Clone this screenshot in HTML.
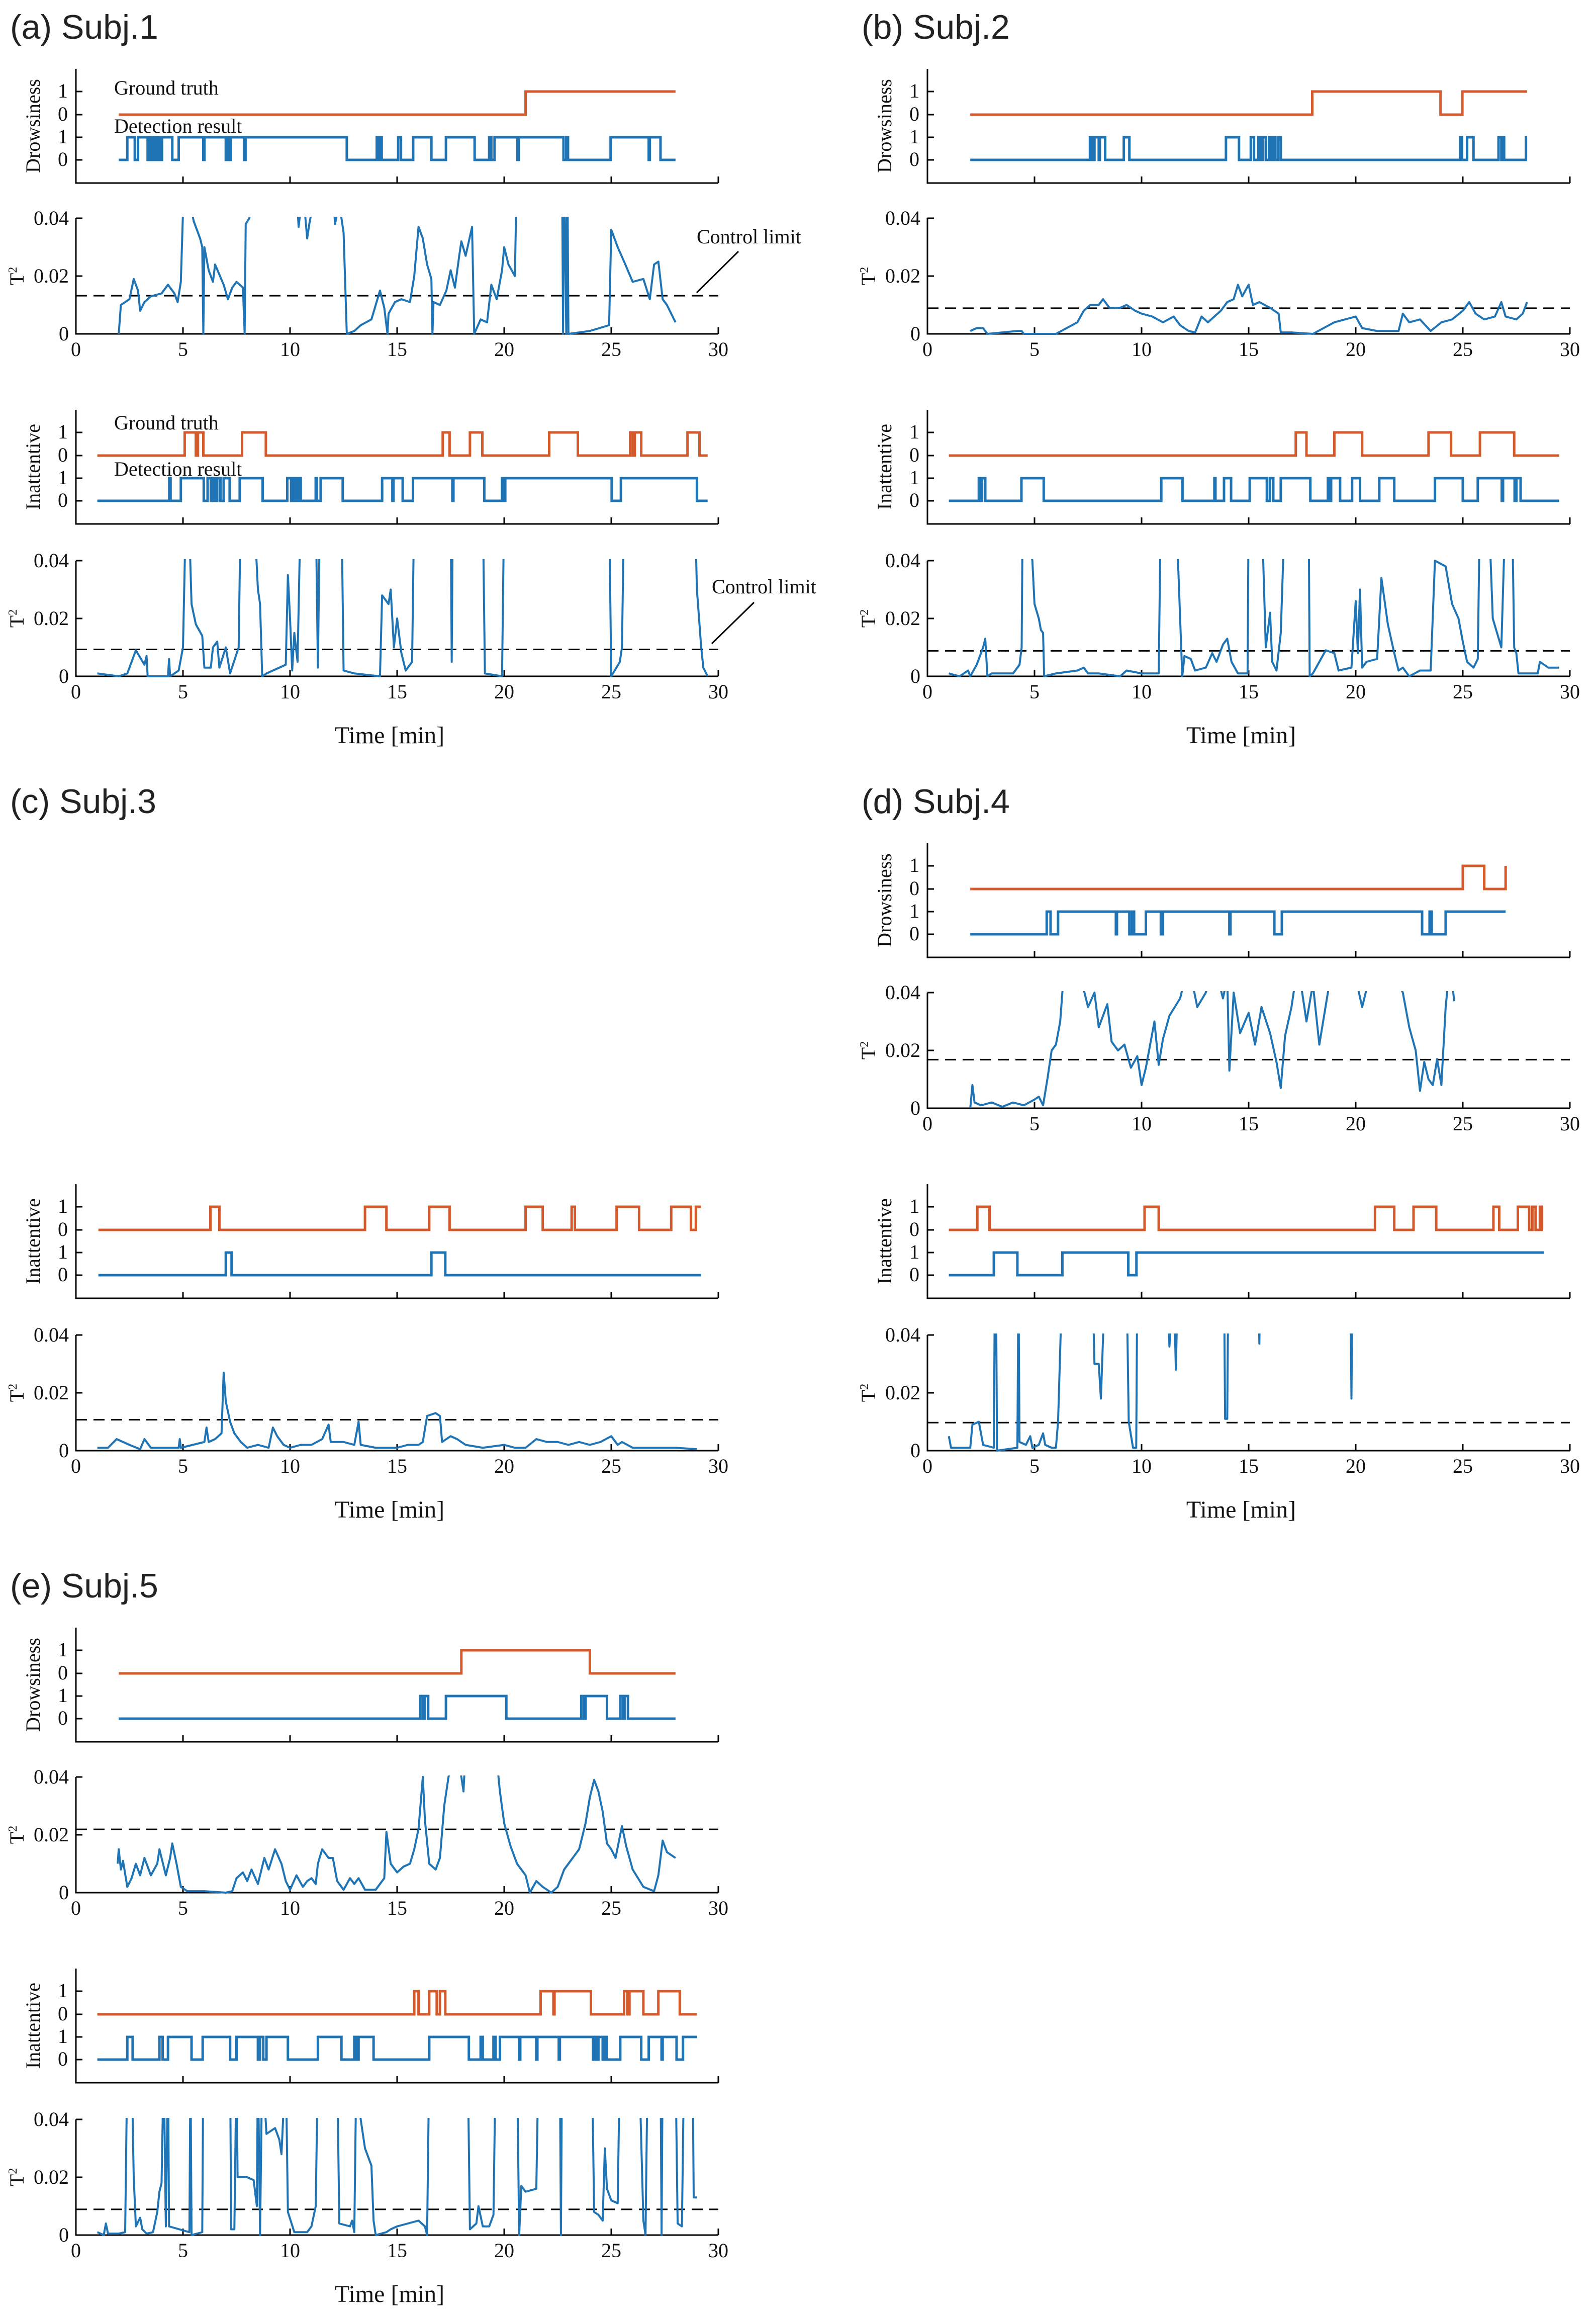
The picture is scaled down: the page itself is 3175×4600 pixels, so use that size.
<!DOCTYPE html>
<html><head><meta charset="utf-8">
<style>
html,body{margin:0;padding:0;background:#fff;}
svg{display:block;}
text{font-family:"Liberation Serif",serif;fill:#111;}
.ttl{font-family:"Liberation Sans",sans-serif;font-size:68px;fill:#222;}
.tk{font-size:40px;}
.lab{font-size:40px;}
.time{font-size:48px;}
</style></head>
<body>
<svg id="fig" xmlns="http://www.w3.org/2000/svg" width="3175" height="4600" viewBox="0 0 3175 4600"></svg>
<script>
// ---------- DATA ----------
// step series: [start, end, initialValue, toggle times]
const a_dGT = [2, 28, 0, [21]];
const a_dDet = [2, 28, 0, [2.4,2.75,2.9,3.35,3.42,3.5,3.58,3.65,3.72,3.8,3.88,3.95,4.02,4.5,4.8,5.95,6.0,7.0,7.05,7.15,7.22,7.85,7.92,12.65,14.05,14.12,14.2,14.28,15.05,15.18,15.75,16.6,17.28,18.62,19.3,19.4,19.55,20.62,20.68,22.77,22.9,22.98,24.97,26.75,26.8,27.3]];
const a_iGT = [1, 29.5, 0, [5.08,5.6,5.7,5.95,7.76,8.87,17.13,17.45,18.4,18.98,22.1,23.44,25.88,26.0,26.1,26.4,28.56,29.12]];
const a_iDet = [1, 29.5, 0, [4.36,4.42,4.9,5.97,6.15,6.3,6.4,6.5,6.6,6.75,6.9,7.18,7.65,8.72,9.87,10.05,10.1,10.2,10.25,10.35,10.4,10.5,11.2,11.25,11.43,12.46,14.3,14.78,14.83,15.26,15.74,17.58,17.63,19.07,19.9,19.98,20.05,25.02,25.45,29.0]];
const a_dT2 = [[2,0],[2.1,0.01],[2.5,0.012],[2.7,0.019],[2.9,0.015],[3.0,0.008],[3.2,0.011],[3.5,0.013],[4.0,0.014],[4.3,0.017],[4.6,0.014],[4.75,0.011],[4.9,0.018],[5.0,0.042],[5.2,0.05],[5.5,0.039],[5.8,0.033],[5.9,0.03],[5.95,0],[6.0,0.03],[6.2,0.022],[6.4,0.018],[6.5,0.024],[6.9,0.017],[7.1,0.012],[7.3,0.016],[7.5,0.018],[7.8,0.016],[7.88,0],[7.93,0.038],[8.1,0.04],[8.3,0.05],[10.3,0.05],[10.4,0.037],[10.6,0.05],[10.8,0.033],[10.9,0.038],[11.2,0.05],[12.0,0.05],[12.1,0.038],[12.3,0.045],[12.5,0.035],[12.65,0],[13.0,0.001],[13.3,0.003],[13.8,0.005],[14.0,0.01],[14.2,0.015],[14.4,0.009],[14.55,0],[14.6,0.007],[14.9,0.011],[15.2,0.012],[15.6,0.011],[15.8,0.02],[16.0,0.037],[16.2,0.033],[16.4,0.024],[16.6,0.019],[16.65,0],[16.7,0.011],[17.0,0.01],[17.3,0.015],[17.5,0.022],[17.7,0.016],[17.9,0.027],[18.0,0.032],[18.2,0.027],[18.5,0.037],[18.6,0],[18.9,0.005],[19.2,0.004],[19.4,0.017],[19.65,0.012],[19.9,0.022],[20.0,0.03],[20.2,0.024],[20.5,0.02],[20.6,0.06],[22.7,0.06],[22.75,0],[22.8,0.06],[22.9,0],[22.95,0.06],[23.0,0],[24.0,0.001],[24.9,0.003],[25.0,0.036],[25.3,0.03],[25.6,0.025],[26.0,0.018],[26.5,0.019],[26.8,0.012],[27.0,0.024],[27.2,0.025],[27.4,0.012],[27.6,0.01],[27.8,0.007],[28.0,0.004]];
const a_iT2 = [[1,0.001],[2,0],[2.4,0.001],[2.8,0.009],[3.2,0.004],[3.3,0.007],[3.35,0],[4.3,0],[4.35,0.006],[4.4,0],[4.8,0.002],[5.0,0.01],[5.1,0.045],[5.3,0.05],[5.4,0.025],[5.6,0.018],[5.9,0.014],[6.0,0.003],[6.3,0.003],[6.4,0.01],[6.6,0.012],[6.7,0.003],[7.0,0.01],[7.2,0.001],[7.6,0.01],[7.7,0.06],[8.3,0.06],[8.5,0.03],[8.6,0.025],[8.7,0],[8.9,0.001],[9.5,0.003],[9.8,0.004],[9.9,0.035],[10.0,0.02],[10.1,0.002],[10.2,0.015],[10.35,0.005],[10.5,0.06],[11.2,0.06],[11.3,0.003],[11.4,0.06],[12.4,0.06],[12.5,0.002],[13,0.001],[14.2,0],[14.3,0.028],[14.6,0.025],[14.7,0.03],[14.85,0.01],[15.0,0.02],[15.2,0.008],[15.4,0.002],[15.7,0.005],[15.8,0.06],[17.5,0.06],[17.55,0.005],[17.6,0.06],[19.0,0.06],[19.1,0.001],[19.9,0],[20.0,0.06],[24.9,0.06],[25.0,0],[25.4,0.005],[25.5,0.01],[25.6,0.06],[28.9,0.06],[29.0,0.03],[29.2,0.01],[29.3,0.003],[29.5,0]];

const b_dGT = [2, 28, 0, [17.97,23.96,24.98]];
const b_dDet = [2, 28, 0, [7.59,7.69,7.8,8.0,8.05,8.3,9.17,9.43,13.94,14.55,15.1,15.25,15.45,15.55,15.65,15.8,15.95,16.05,16.15,16.25,16.38,16.5,24.88,24.96,25.2,25.5,26.67,26.8,26.85,26.93,27.95]];
const b_iGT = [1, 29.5, 0, [17.2,17.7,19.0,20.3,23.4,24.45,25.8,27.4]];
const b_iDet = [1, 29.5, 0, [2.4,2.5,2.55,2.7,4.39,5.43,10.92,11.91,13.4,13.45,13.85,14.18,15.05,15.85,15.99,16.15,16.5,17.88,18.7,18.75,18.85,19.27,19.83,20.2,21.1,21.8,23.7,25.0,25.7,26.82,26.88,27.42,27.5,27.7]];
const b_dT2 = [[2,0.001],[2.3,0.002],[2.6,0.002],[2.8,0],[4.2,0.001],[4.4,0.001],[4.5,0],[6,0],[6.5,0.002],[7,0.004],[7.3,0.008],[7.6,0.01],[8,0.01],[8.2,0.012],[8.5,0.009],[9,0.009],[9.3,0.01],[9.7,0.008],[10,0.007],[10.5,0.006],[11,0.004],[11.5,0.006],[11.8,0.003],[12.2,0.001],[12.5,0.0005],[12.8,0.006],[13.1,0.004],[13.4,0.006],[13.7,0.008],[14,0.011],[14.3,0.012],[14.5,0.017],[14.7,0.013],[15,0.017],[15.2,0.01],[15.5,0.011],[16,0.009],[16.4,0.007],[16.5,0.0005],[17,0.0005],[18,0],[18.5,0.002],[19,0.004],[19.5,0.005],[20,0.006],[20.3,0.002],[21,0.001],[21.5,0.001],[22,0.001],[22.2,0.007],[22.5,0.004],[23,0.005],[23.5,0.001],[24,0.004],[24.5,0.005],[25,0.008],[25.3,0.011],[25.6,0.007],[26,0.005],[26.5,0.006],[26.8,0.011],[27,0.006],[27.5,0.005],[27.8,0.007],[28,0.011]];
const b_iT2 = [[1,0.001],[1.5,0],[1.9,0.002],[2,0],[2.3,0.004],[2.6,0.01],[2.7,0.013],[2.8,0],[3,0.001],[4,0.001],[4.3,0.004],[4.4,0.01],[4.45,0.06],[4.9,0.04],[5,0.025],[5.2,0.02],[5.3,0.016],[5.4,0.015],[5.45,0],[6,0.001],[7,0.002],[7.3,0.003],[7.5,0.001],[8,0.001],[9,0],[9.3,0.002],[10,0.001],[10.8,0.001],[10.9,0.06],[11.6,0.06],[11.7,0.04],[11.9,0],[12,0.007],[12.3,0.006],[12.5,0.002],[13,0.003],[13.3,0.008],[13.5,0.005],[13.8,0.011],[14,0.013],[14.2,0.005],[14.5,0.001],[14.95,0.001],[15,0.06],[15.6,0.06],[15.8,0.01],[16,0.022],[16.1,0.005],[16.3,0.002],[16.5,0.015],[16.7,0.06],[17.8,0.06],[17.85,0],[18,0.001],[18.6,0.009],[19,0.008],[19.2,0.002],[19.8,0.003],[20,0.026],[20.1,0.008],[20.2,0.03],[20.3,0.003],[20.5,0.005],[21,0.006],[21.2,0.034],[21.5,0.018],[21.8,0.008],[22,0.002],[22.2,0.003],[22.5,0],[23,0.002],[23.5,0.002],[23.7,0.04],[24.2,0.038],[24.5,0.025],[24.8,0.02],[25,0.012],[25.2,0.005],[25.5,0.003],[25.7,0.006],[25.8,0.06],[26.2,0.06],[26.4,0.02],[26.8,0.01],[27,0.06],[27.3,0.06],[27.4,0.01],[27.5,0.008],[27.6,0.001],[28.5,0.001],[28.6,0.005],[29,0.003],[29.5,0.003]];

const c_iGT = [1.05, 29.2, 0, [6.28,6.7,13.5,14.5,16.5,17.45,21.0,21.8,23.15,23.3,25.25,26.3,27.8,28.72,28.95]];
const c_iDet = [1.05, 29.2, 0, [7.0,7.27,16.6,17.25]];
const c_iT2 = [[1,0.001],[1.5,0.001],[1.9,0.004],[2.5,0.002],[3,0.0005],[3.2,0.004],[3.5,0.001],[4,0.001],[4.8,0.001],[4.85,0.004],[4.9,0.001],[6,0.003],[6.1,0.008],[6.2,0.003],[6.5,0.004],[6.8,0.006],[6.9,0.027],[7,0.017],[7.2,0.01],[7.4,0.006],[7.7,0.003],[8,0.001],[8.5,0.002],[9,0.001],[9.2,0.008],[9.4,0.005],[9.7,0.002],[10,0.001],[10.5,0.002],[11,0.002],[11.5,0.004],[11.8,0.009],[11.9,0.003],[12.5,0.003],[13,0.002],[13.2,0.01],[13.3,0.002],[14,0.001],[15,0.001],[15.5,0.002],[16,0.002],[16.2,0.003],[16.4,0.012],[16.8,0.013],[17,0.012],[17.1,0.003],[17.5,0.005],[17.8,0.004],[18.2,0.002],[19,0.001],[20,0.002],[20.5,0.001],[21,0.001],[21.5,0.004],[22,0.003],[22.5,0.003],[23,0.002],[23.5,0.003],[24,0.002],[24.5,0.003],[25,0.005],[25.3,0.002],[25.5,0.003],[26,0.001],[26.5,0.001],[27,0.001],[28,0.001],[29,0.0005]];

const d_dGT = [2, 27, 0, [25.0,26.0,27.0]];
const d_dDet = [2, 27, 0, [5.57,5.75,6.1,8.8,8.85,9.43,9.55,9.65,10.2,10.9,11.0,14.1,14.15,16.2,16.55,23.1,23.45,23.55,24.2]];
const d_iGT = [1, 28.75, 0, [2.33,2.9,10.14,10.8,20.9,21.8,22.7,23.76,26.43,26.7,27.57,28.1,28.25,28.4,28.6,28.7]];
const d_iDet = [1, 28.8, 0, [3.1,4.2,6.3,9.38,9.76]];
const d_dT2 = [[2,0],[2.1,0.008],[2.2,0.002],[2.5,0.001],[3,0.002],[3.5,0.0005],[4,0.002],[4.5,0.001],[5,0.003],[5.2,0.004],[5.4,0.001],[5.6,0.01],[5.8,0.02],[6,0.022],[6.2,0.03],[6.4,0.05],[7,0.05],[7.5,0.035],[7.8,0.04],[8,0.028],[8.4,0.036],[8.6,0.023],[8.9,0.02],[9.2,0.022],[9.5,0.014],[9.8,0.018],[10,0.008],[10.2,0.014],[10.4,0.022],[10.6,0.03],[10.8,0.015],[11,0.024],[11.3,0.032],[11.8,0.038],[12.2,0.05],[12.6,0.035],[13,0.04],[13.4,0.05],[13.8,0.038],[14,0.045],[14.1,0.013],[14.3,0.04],[14.6,0.026],[15,0.033],[15.3,0.022],[15.6,0.035],[16,0.026],[16.3,0.016],[16.5,0.007],[16.7,0.025],[17,0.035],[17.3,0.05],[17.7,0.03],[18,0.043],[18.3,0.022],[18.7,0.04],[19,0.05],[20,0.045],[20.3,0.035],[20.8,0.05],[21.5,0.05],[22.2,0.04],[22.5,0.028],[22.8,0.02],[23,0.006],[23.2,0.016],[23.4,0.01],[23.6,0.008],[23.8,0.017],[24,0.008],[24.2,0.035],[24.4,0.05],[24.6,0.037]];
const d_iT2 = [[1,0.005],[1.1,0.001],[2,0.001],[2.1,0.009],[2.4,0.01],[2.6,0.002],[3.1,0.001],[3.15,0.06],[3.2,0.06],[3.25,0],[4.2,0.001],[4.25,0.06],[4.3,0.003],[4.6,0.002],[4.8,0.005],[4.9,0.001],[5.2,0.002],[5.4,0.006],[5.5,0.002],[5.8,0.001],[6,0.001],[6.1,0.01],[6.3,0.06],[7.7,0.06],[7.8,0.03],[8,0.03],[8.1,0.018],[8.3,0.06],[9.3,0.06],[9.4,0.01],[9.6,0.001],[9.75,0.001],[9.8,0.06],[11.2,0.06],[11.3,0.036],[11.5,0.06],[11.6,0.028],[11.7,0.06],[13.85,0.06],[13.9,0.011],[14,0.011],[14.05,0.06],[15.45,0.06],[15.5,0.037],[15.55,0.06],[19.75,0.06],[19.8,0.018],[19.85,0.06],[28.8,0.06]];

const e_dGT = [2, 28, 0, [18.0,24.0]];
const e_dDet = [2, 28, 0, [16.08,16.2,16.3,16.45,17.28,20.1,23.6,23.72,23.8,24.8,25.43,25.55,25.62,25.78]];
const e_iGT = [1, 29.0, 0, [15.8,16.0,16.5,16.85,17.0,17.25,21.7,22.3,22.35,24.05,25.6,25.75,25.85,26.5,27.2,28.2]];
const e_iDet = [1, 29.0, 0, [2.4,2.65,3.9,4.05,4.3,5.4,5.92,7.2,7.5,8.5,8.6,8.75,8.9,9.9,11.3,12.4,13.0,13.1,13.2,13.9,16.5,18.35,18.9,19.0,19.5,19.6,19.8,20.7,20.75,21.5,21.55,22.55,22.6,24.15,24.2,24.3,24.4,24.6,24.7,24.8,25.42,26.4,26.75,27.35,27.4,28.05,28.35]];
const e_dT2 = [[1.95,0.01],[2,0.015],[2.1,0.008],[2.2,0.011],[2.4,0.002],[2.6,0.005],[2.8,0.01],[3,0.006],[3.2,0.012],[3.5,0.006],[3.8,0.01],[3.9,0.015],[4.1,0.009],[4.2,0.006],[4.4,0.012],[4.5,0.017],[4.7,0.01],[4.9,0.002],[5.2,0.0005],[6,0.0005],[7,0],[7.3,0.0005],[7.5,0.005],[7.8,0.007],[8,0.004],[8.2,0.008],[8.5,0.003],[8.8,0.012],[9,0.008],[9.3,0.015],[9.6,0.01],[9.8,0.004],[10,0.001],[10.3,0.006],[10.6,0.002],[10.8,0.004],[11,0.005],[11.2,0.003],[11.3,0.01],[11.5,0.015],[11.8,0.012],[12,0.012],[12.2,0.004],[12.5,0.001],[12.8,0.005],[13,0.003],[13.2,0.005],[13.5,0.001],[14,0.001],[14.4,0.005],[14.5,0.021],[14.7,0.01],[15,0.007],[15.3,0.009],[15.6,0.01],[15.8,0.015],[16,0.022],[16.2,0.04],[16.3,0.025],[16.5,0.01],[16.8,0.008],[17,0.012],[17.2,0.03],[17.4,0.04],[17.8,0.05],[18,0.04],[18.1,0.035],[18.2,0.05],[19.6,0.05],[19.8,0.035],[20,0.024],[20.3,0.016],[20.6,0.01],[21,0.006],[21.2,0],[21.5,0.004],[21.8,0.002],[22.2,0],[22.5,0.002],[22.8,0.008],[23,0.01],[23.5,0.015],[23.8,0.024],[24,0.033],[24.2,0.039],[24.4,0.035],[24.6,0.028],[24.8,0.017],[25,0.015],[25.2,0.012],[25.5,0.023],[25.7,0.016],[26,0.008],[26.5,0.002],[27,0.0005],[27.2,0.006],[27.4,0.018],[27.6,0.014],[28,0.012]];
const e_iT2 = [[1,0.001],[1.3,0],[1.4,0.004],[1.5,0.0005],[2,0.0005],[2.3,0.001],[2.4,0.06],[2.6,0.06],[2.7,0.02],[2.8,0.003],[3,0.006],[3.1,0.002],[3.3,0.0005],[3.6,0.001],[3.8,0.008],[3.9,0.015],[4,0.018],[4.1,0.06],[4.2,0.003],[4.3,0.06],[4.35,0.003],[5.3,0.001],[5.35,0.06],[5.4,0],[5.9,0.001],[5.95,0.06],[7.2,0.06],[7.25,0.002],[7.4,0.002],[7.5,0.06],[7.55,0.02],[8,0.02],[8.3,0.019],[8.45,0.01],[8.5,0.06],[8.6,0],[8.7,0.06],[8.9,0.035],[9.3,0.037],[9.5,0.033],[9.6,0.028],[9.8,0.06],[9.9,0.008],[10.2,0.001],[10.8,0.001],[11,0.003],[11.2,0.01],[11.3,0.06],[12.2,0.06],[12.3,0.004],[12.8,0.003],[12.9,0.005],[13,0.001],[13.1,0.06],[13.3,0.04],[13.5,0.03],[13.8,0.024],[13.9,0.005],[14,0],[14.5,0.001],[14.7,0.002],[15,0.003],[15.5,0.004],[16,0.005],[16.3,0.003],[16.4,0],[16.5,0.06],[18.3,0.06],[18.4,0.002],[18.7,0.004],[18.8,0.01],[19,0.003],[19.3,0.003],[19.5,0.007],[19.6,0.06],[20.6,0.06],[20.7,0],[20.8,0.017],[21,0.015],[21.5,0.016],[21.6,0.06],[22.6,0.06],[22.65,0],[22.7,0.06],[24.1,0.06],[24.2,0.008],[24.4,0.007],[24.6,0.005],[24.7,0.03],[24.8,0.016],[25,0.012],[25.3,0.011],[25.4,0.06],[26.3,0.06],[26.5,0.005],[26.6,0],[26.7,0.06],[27.3,0.06],[27.35,0],[27.4,0.06],[28,0.06],[28.1,0.004],[28.3,0.003],[28.4,0.06],[28.8,0.06],[28.85,0.013],[29,0.013]];

const controlLimits = {a:[0.0132,0.0093], b:[0.0089,0.0088], c:[null,0.0107], d:[0.0168,0.0097], e:[0.0219,0.0089]};
const xTicks = [0,5,10,15,20,25,30];
const t2Ticks = [0,0.02,0.04];
const t2TickLabels = ['0','0.02','0.04'];

// ---------- DRAWING ----------
const NS='http://www.w3.org/2000/svg';
const svg=document.getElementById('fig');
const ORANGE='#d4592b', BLUE='#1f74b5';
const W=1278;
function mk(tag,attrs,parent){const e=document.createElementNS(NS,tag);for(const k in attrs)e.setAttribute(k,attrs[k]);(parent||svg).appendChild(e);return e;}
let clipN=0;

function stepPath(series,xs,yHi,yLo){
  const [s,e,init,tg]=series;let v=init;let d='M'+xs(s)+','+(v?yHi:yLo);
  for(const t of tg){d+='L'+xs(t)+','+(v?yHi:yLo);v=1-v;d+='L'+xs(t)+','+(v?yHi:yLo);}
  d+='L'+xs(e)+','+(v?yHi:yLo);return d;
}

function stepBlock(g,x0,top,label,gt,det){
  const xs=t=>x0+t*W/30;
  const gt1=top+45,gt0=top+91,d1=top+136,d0=top+181,bot=top+227;
  const ax=mk('path',{d:`M${x0},${top}V${bot}H${x0+W}`,stroke:'#000','stroke-width':3,fill:'none'},g);
  
  
  for(const t of xTicks){const tk=mk('line',{x1:xs(t),x2:xs(t),y1:bot,y2:bot-13,stroke:'#000','stroke-width':3},g);
    
    }
  [[gt1,'1'],[gt0,'0'],[d1,'1'],[d0,'0']].forEach(([y,s])=>{
    const tl=mk('line',{x1:x0,x2:x0+13,y1:y,y2:y,stroke:'#000','stroke-width':3},g);
    
    
    const tx=mk('text',{x:x0-16,y:y+12,'text-anchor':'end',class:'tk'},g);tx.textContent=s;
    
    });
  const lb=mk('text',{x:0,y:0,class:'lab','text-anchor':'middle',transform:`translate(${x0-72},${(top+bot)/2}) rotate(-90)`},g);lb.textContent=label;
  
  
  const p1=mk('path',{d:stepPath(gt,xs,gt1,gt0),stroke:ORANGE,'stroke-width':5,fill:'none'},g);
  
  
  const p2=mk('path',{d:stepPath(det,xs,d1,d0),stroke:BLUE,'stroke-width':5,fill:'none'},g);
  
  
}

function t2Block(g,x0,top,data,cl){
  const xs=t=>x0+t*W/30;const H=230;const zero=top+H;const ys=v=>zero-v/0.04*H;
  const id='clip'+(clipN++);const cp=mk('clipPath',{id:id},g);mk('rect',{x:x0,y:top-3,width:W+10,height:H+6},cp);
  const ax=mk('path',{d:`M${x0},${top}V${zero}H${x0+W}`,stroke:'#000','stroke-width':3,fill:'none'},g);
  
  
  for(const t of xTicks){const tk=mk('line',{x1:xs(t),x2:xs(t),y1:zero,y2:zero-13,stroke:'#000','stroke-width':3},g);
    
    
    const tx=mk('text',{x:xs(t),y:zero+44,'text-anchor':'middle',class:'tk'},g);tx.textContent=t;
    
    }
  t2Ticks.forEach((v,i)=>{const tl=mk('line',{x1:x0,x2:x0+13,y1:ys(v),y2:ys(v),stroke:'#000','stroke-width':3},g);
    
    
    const tx=mk('text',{x:x0-14,y:ys(v)+13,'text-anchor':'end',class:'tk'},g);tx.textContent=t2TickLabels[i];
    
    });
  const lb=mk('text',{x:0,y:0,class:'lab','text-anchor':'middle',transform:`translate(${x0-104},${top+H/2}) rotate(-90)`},g);
  lb.innerHTML='T<tspan dy="-14" font-size="24">2</tspan>';
  
  
  const dl=mk('line',{x1:x0,x2:x0+W,y1:ys(cl),y2:ys(cl),stroke:'#000','stroke-width':3,'stroke-dasharray':'22 13'},g);
  
  
  const d='M'+data.map(p=>xs(p[0])+','+ys(p[1])).join('L');
  const ln=mk('path',{d:d,stroke:BLUE,'stroke-width':4,fill:'none','clip-path':`url(#${id})`,'stroke-linejoin':'round'},g);
  
  
  return {ys,zero};
}

function panel(key,title,x0,oy,dGT,dDet,dT2,iGT,iDet,iT2){
  const g=mk('g',{});
  
  
  const tt=mk('text',{x:x0-131,y:oy+77,class:'ttl'},g);tt.textContent=title;
  
  
  const cl=controlLimits[key];
  if(dGT){stepBlock(g,x0,oy+137,'Drowsiness',dGT,dDet);t2Block(g,x0,oy+434,dT2,cl[0]);}
  stepBlock(g,x0,oy+815,'Inattentive',iGT,iDet);
  t2Block(g,x0,oy+1115,iT2,cl[1]);
  const tm=mk('text',{x:x0+624,y:oy+1478,'text-anchor':'middle',class:'time'},g);tm.textContent='Time [min]';
  
  
  return g;
}

const pa=panel('a','(a) Subj.1',151,0,a_dGT,a_dDet,a_dT2,a_iGT,a_iDet,a_iT2);
panel('b','(b) Subj.2',1845,0,b_dGT,b_dDet,b_dT2,b_iGT,b_iDet,b_iT2);
panel('c','(c) Subj.3',151,1540,null,null,null,c_iGT,c_iDet,c_iT2);
panel('d','(d) Subj.4',1845,1540,d_dGT,d_dDet,d_dT2,d_iGT,d_iDet,d_iT2);
panel('e','(e) Subj.5',151,3100,e_dGT,e_dDet,e_dT2,e_iGT,e_iDet,e_iT2);

// annotations in panel a
function ann(x,y,s){const t=mk('text',{x:x,y:y,class:'lab'},pa);t.textContent=s;return t;}
let t;
t=ann(227,188,'Ground truth');


t=ann(227,264,'Detection result');


t=ann(227,854,'Ground truth');


t=ann(227,946,'Detection result');


t=ann(1386,484,'Control limit');


t=ann(1416,1180,'Control limit');


let l=mk('line',{x1:1469,y1:500,x2:1386,y2:582,stroke:'#000','stroke-width':3},pa);


l=mk('line',{x1:1500,y1:1198,x2:1416,y2:1280,stroke:'#000','stroke-width':3},pa);


</script>
</body></html>
